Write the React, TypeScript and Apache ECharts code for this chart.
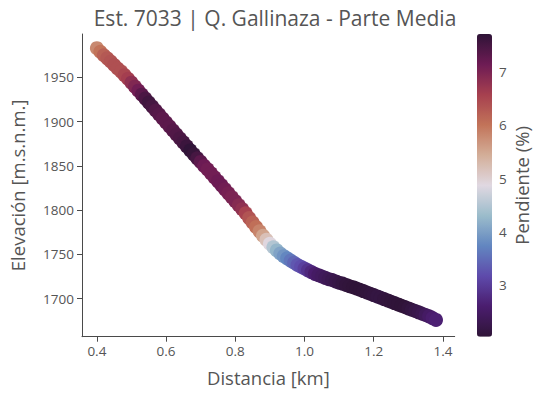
import React, { useEffect, useRef } from "react";
import * as echarts from "echarts";

const distanciaKm = [
  0.40, 0.41, 0.42, 0.43, 0.44, 0.45, 0.46, 0.47, 0.48, 0.49,
  0.50, 0.51, 0.52, 0.53, 0.54, 0.55, 0.56, 0.57, 0.58, 0.59,
  0.60, 0.61, 0.62, 0.63, 0.64, 0.65, 0.66, 0.67, 0.68, 0.69,
  0.70, 0.71, 0.72, 0.73, 0.74, 0.75, 0.76, 0.77, 0.78, 0.79,
  0.80, 0.81, 0.82, 0.83, 0.84, 0.85, 0.86, 0.87, 0.88, 0.89,
  0.90, 0.91, 0.92, 0.93, 0.94, 0.95, 0.96, 0.97, 0.98, 0.99,
  1.00, 1.01, 1.02, 1.03, 1.04, 1.05, 1.06, 1.07, 1.08, 1.09,
  1.10, 1.11, 1.12, 1.13, 1.14, 1.15, 1.16, 1.17, 1.18, 1.19,
  1.20, 1.21, 1.22, 1.23, 1.24, 1.25, 1.26, 1.27, 1.28, 1.29,
  1.30, 1.31, 1.32, 1.33, 1.34, 1.35, 1.36, 1.37, 1.38,
];

const elevacion = [
  1983, 1979, 1975, 1971.5, 1968, 1964, 1960, 1956.5, 1952.5, 1948.5,
  1944, 1939.5, 1935, 1930.5, 1926, 1921.5, 1917, 1912.5, 1908, 1903.5,
  1899, 1894.5, 1890, 1885.5, 1881, 1876.5, 1872, 1867.5, 1863, 1858.5,
  1854.5, 1850, 1846, 1841.5, 1837, 1832.5, 1828, 1823.5, 1819, 1814.5,
  1810, 1805.5, 1801, 1796.5, 1791, 1786, 1781, 1776, 1771, 1766.5,
  1762, 1758, 1754.5, 1751, 1748, 1745.5, 1743, 1740.5, 1738, 1736,
  1734, 1732, 1730, 1728, 1726.5, 1725, 1723.5, 1722, 1721, 1719.5,
  1718, 1717, 1715.5, 1714, 1713, 1711.5, 1710, 1708.5, 1707, 1705.5,
  1704, 1702.5, 1701, 1699.5, 1698, 1696.5, 1695, 1693.5, 1692, 1690.5,
  1689, 1687.5, 1686, 1684.5, 1683, 1681.5, 1680, 1678, 1676,
];

const pendiente = [
  5.8, 6.0, 6.2, 6.3, 6.35, 6.4, 6.4, 6.4, 6.5, 6.6,
  6.8, 6.95, 7.1, 7.3, 7.45, 7.55, 7.5, 7.4, 7.35, 7.3,
  7.3, 7.3, 7.35, 7.4, 7.45, 7.5, 7.6, 7.7, 7.65, 7.5,
  7.3, 7.15, 7.1, 7.1, 7.1, 7.15, 7.15, 7.1, 7.05, 7.0,
  7.0, 6.9, 6.8, 6.55, 6.35, 6.2, 6.05, 5.85, 5.55, 5.2,
  4.9, 4.5, 4.25, 4.05, 3.9, 3.75, 3.6, 3.45, 3.3, 3.2,
  3.05, 2.9, 2.75, 2.6, 2.5, 2.45, 2.4, 2.35, 2.3, 2.25,
  2.2, 2.15, 2.1, 2.08, 2.06, 2.05, 2.05, 2.06, 2.08, 2.1,
  2.12, 2.15, 2.15, 2.12, 2.1, 2.08, 2.07, 2.06, 2.05, 2.06,
  2.1, 2.15, 2.2, 2.25, 2.3, 2.4, 2.5, 2.6, 2.65,
];

const xTicks = [0.4, 0.6, 0.8, 1.0, 1.2, 1.4];
const yTicks = [1700, 1750, 1800, 1850, 1900, 1950];
const cbTicks = [3, 4, 5, 6, 7];

const twilightShifted = [
  "#2f1437", "#4a1d6e", "#5e4aab", "#6286c0", "#9bbccb", "#e0d8e1",
  "#d3ae98", "#c27359", "#a6404f", "#6d1b54", "#2f1437",
];

const V_MIN = 2.04;
const V_MAX = 7.71;

const FONT = "'Open Sans', Lato, sans-serif";
const TEXT = "#555555";
const AXIS = "#4a4a4a";

export default function App() {
  const ref = useRef<HTMLDivElement>(null);

  useEffect(() => {
    if (!ref.current) return;
    const chart = echarts.init(ref.current, undefined, { renderer: "svg" });
    const data = distanciaKm.map((x, i) => [x, elevacion[i], pendiente[i]]);
    const plotLeft = 81.5;
    const plotTop = 34;
    const plotW = 373.2;
    const plotH = 302.7;

    chart.setOption({
      animation: false,
      backgroundColor: "#ffffff",
      textStyle: { fontFamily: FONT },
      title: {
        text: "Est. 7033 | Q. Gallinaza - Parte Media",
        left: 270,
        top: 2,
        textAlign: "center",
        textStyle: { fontFamily: FONT, fontSize: 21, fontWeight: "normal", color: TEXT },
      },
      grid: [
        { left: plotLeft, top: plotTop, width: plotW, height: plotH, containLabel: false },
        { left: 477, top: plotTop, width: 15, height: plotH, containLabel: false },
      ],
      xAxis: [
        {
          type: "value",
          gridIndex: 0,
          min: 0.357,
          max: 1.434,
          name: "Distancia [km]",
          nameLocation: "middle",
          nameGap: 31,
          nameTextStyle: { fontFamily: FONT, fontSize: 18.5, color: TEXT },
          axisLine: { show: true, lineStyle: { color: AXIS, width: 1 } },
          axisTick: { show: true, length: 5, lineStyle: { color: AXIS }, customValues: xTicks },
          axisLabel: {
            color: TEXT,
            fontSize: 13.5,
            fontFamily: FONT,
            margin: 7,
            customValues: xTicks,
            formatter: (v: number) => v.toFixed(1),
          },
          splitLine: { show: false },
        },
        {
          type: "value",
          gridIndex: 1,
          min: 0,
          max: 1,
          show: false,
        },
      ],
      yAxis: [
        {
          type: "value",
          gridIndex: 0,
          min: 1657,
          max: 1999,
          name: "Elevación [m.s.n.m.]",
          nameLocation: "middle",
          nameGap: 55,
          nameRotate: 90,
          nameTextStyle: { fontFamily: FONT, fontSize: 18.5, color: TEXT },
          axisLine: { show: true, lineStyle: { color: AXIS, width: 1 } },
          axisTick: { show: true, length: 5, lineStyle: { color: AXIS }, customValues: yTicks },
          axisLabel: {
            color: TEXT,
            fontSize: 13.5,
            fontFamily: FONT,
            margin: 8,
            customValues: yTicks,
            formatter: (v: number) => String(v),
          },
          splitLine: { show: false },
        },
        {
          type: "value",
          gridIndex: 1,
          position: "right",
          min: V_MIN,
          max: V_MAX,
          name: "Pendiente (%)",
          nameLocation: "middle",
          nameGap: 20,
          nameRotate: 90,
          nameTextStyle: { fontFamily: FONT, fontSize: 18.5, color: TEXT },
          axisLine: { show: false },
          axisTick: { show: true, length: 4, lineStyle: { color: AXIS }, customValues: cbTicks },
          axisLabel: {
            color: TEXT,
            fontSize: 13.5,
            fontFamily: FONT,
            margin: 7,
            customValues: cbTicks,
            formatter: (v: number) => String(v),
          },
          splitLine: { show: false },
        },
      ],
      visualMap: {
        type: "continuous",
        seriesIndex: 0,
        dimension: 2,
        min: V_MIN,
        max: V_MAX,
        calculable: false,
        show: true,
        left: 477,
        top: plotTop,
        itemWidth: 15,
        itemHeight: plotH,
        padding: 0,
        text: ["", ""],
        showLabel: false,
        inRange: { color: twilightShifted },
      },
      series: [
        {
          type: "scatter",
          xAxisIndex: 0,
          yAxisIndex: 0,
          symbol: "circle",
          symbolSize: 14,
          data,
          itemStyle: { opacity: 1 },
          emphasis: { disabled: true },
        },
      ],
    });

    return () => chart.dispose();
  }, []);

  return (
    <div
      ref={ref}
      style={{ position: "fixed", left: 0, top: 0, width: 545, height: 399, background: "#fff" }}
    />
  );
}
